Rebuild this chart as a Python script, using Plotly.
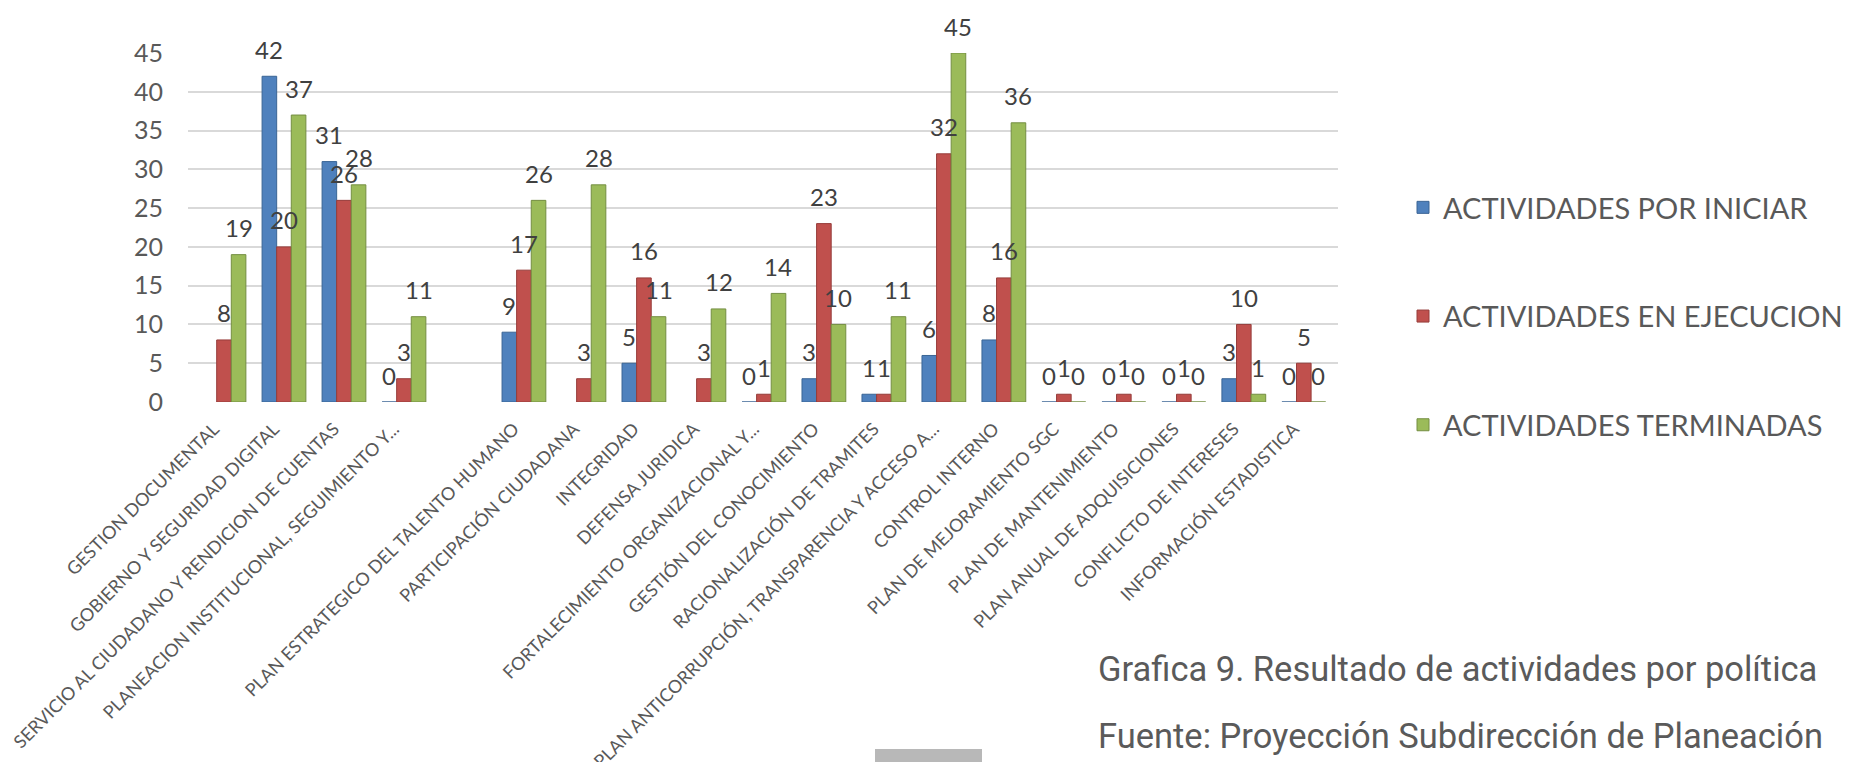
import plotly.graph_objects as go

categories = [
    "GESTION DOCUMENTAL",
    "GOBIERNO Y SEGURIDAD DIGITAL",
    "SERVICIO AL CIUDADANO Y RENDICION DE CUENTAS",
    "PLANEACION INSTITUCIONAL, SEGUIMIENTO Y...",
    " ",
    "PLAN ESTRATEGICO DEL TALENTO HUMANO",
    "PARTICIPACIÓN CIUDADANA",
    "INTEGRIDAD",
    "DEFENSA JURIDICA",
    "FORTALECIMIENTO ORGANIZACIONAL Y...",
    "GESTIÓN DEL CONOCIMIENTO",
    "RACIONALIZACIÓN DE TRAMITES",
    "PLAN ANTICORRUPCIÓN, TRANSPARENCIA Y ACCESO A...",
    "CONTROL INTERNO",
    "PLAN DE MEJORAMIENTO SGC",
    "PLAN DE MANTENIMIENTO",
    "PLAN ANUAL DE ADQUISICIONES",
    "CONFLICTO DE INTERESES",
    "INFORMACIÓN ESTADISTICA",
]

por_iniciar = [None, 42, 31, 0, None, 9, None, 5, None, 0, 3, 1, 6, 8, 0, 0, 0, 3, 0]
en_ejecucion = [8, 20, 26, 3, None, 17, 3, 16, 3, 1, 23, 1, 32, 16, 1, 1, 1, 10, 5]
terminadas = [19, 37, 28, 11, None, 26, 28, 11, 12, 14, 10, 11, 45, 36, 0, 0, 0, 1, 0]

series_names = ["ACTIVIDADES POR INICIAR", "ACTIVIDADES EN EJECUCION", "ACTIVIDADES TERMINADAS"]
series_values = [por_iniciar, en_ejecucion, terminadas]
colors = ["#4F81BD", "#C0504D", "#9BBB59"]
line_colors = ["#3A6595", "#963C3A", "#748E42"]

caption_1 = "Grafica 9. Resultado de actividades por política"
caption_2 = "Fuente: Proyección Subdirección de Planeación"

W, H = 1851, 762
L, R_EDGE, T, B_EDGE = 188, 1338, 53, 402
PW = R_EDGE - L
PH = B_EDGE - T
bargap = 0.27
slot = PW / 19.17
bw = slot * (1 - bargap) / 3

fig = go.Figure()
for i, (name, vals) in enumerate(zip(series_names, series_values)):
    fig.add_trace(go.Bar(
        name=name, x=categories, y=vals,
        marker=dict(color=colors[i], line=dict(color=line_colors[i], width=1)),
        legendgroup=name,
    ))

annotations = []
for i, vals in enumerate(series_values):
    shift = (i - 1) * bw
    for cat, v in zip(categories, vals):
        if v is None:
            continue
        annotations.append(dict(
            x=cat, y=v, xref="x", yref="y", text=str(v), showarrow=False,
            xshift=shift, yshift=27, yanchor="middle",
            font=dict(family="Lato", size=24, color="#404040"),
        ))

def px_x(p):
    return (p - L) / PW

def px_y(p):
    return (B_EDGE - p) / PH

annotations.append(dict(
    x=px_x(1096), y=px_y(669), xref="paper", yref="paper", text=caption_1,
    showarrow=False, xanchor="left", yanchor="middle",
    font=dict(family="Roboto", size=34.5, color="#5a5a5a"),
))
annotations.append(dict(
    x=px_x(1096), y=px_y(736), xref="paper", yref="paper", text=caption_2,
    showarrow=False, xanchor="left", yanchor="middle",
    font=dict(family="Roboto", size=34.5, color="#5a5a5a"),
))

fig.update_layout(
    width=W, height=H,
    margin=dict(l=L, r=W - R_EDGE, t=T, b=H - B_EDGE, autoexpand=False),
    paper_bgcolor="white", plot_bgcolor="white",
    barmode="group", bargap=bargap, bargroupgap=0,
    font=dict(family="Lato", color="#595959"),
    annotations=annotations,
    shapes=[dict(type="rect", xref="paper", yref="paper",
                 x0=px_x(875), x1=px_x(982), y0=px_y(762), y1=px_y(749),
                 fillcolor="#B8B8B8", line=dict(width=0))],
    legend=dict(
        x=px_x(1403), y=px_y(182), xanchor="left", yanchor="top",
        font=dict(family="Lato", size=29, color="#595959"),
        traceorder="grouped", tracegroupgap=68,
        bgcolor="rgba(0,0,0,0)",
    ),
    xaxis=dict(
        type="category", range=[-0.6, 18.57], tickangle=-45,
        tickfont=dict(family="Lato", size=18, color="#595959"),
        showgrid=False, showline=False, zeroline=False, automargin=False,
        ticklabelshift=-10, ticklabelstandoff=12,
    ),
    yaxis=dict(
        range=[0, 45], dtick=5, tick0=0,
        tickfont=dict(family="Lato", size=25, color="#595959"),
        showgrid=True, gridcolor="#D9D9D9", gridwidth=2,
        zeroline=False, showline=False, automargin=False,
        ticklabelstandoff=24,
    ),
)

fig.write_html(
    "out.html",
    config={"displayModeBar": False},
    post_script="document.body.style.margin='0';document.body.style.overflow='hidden';",
)
